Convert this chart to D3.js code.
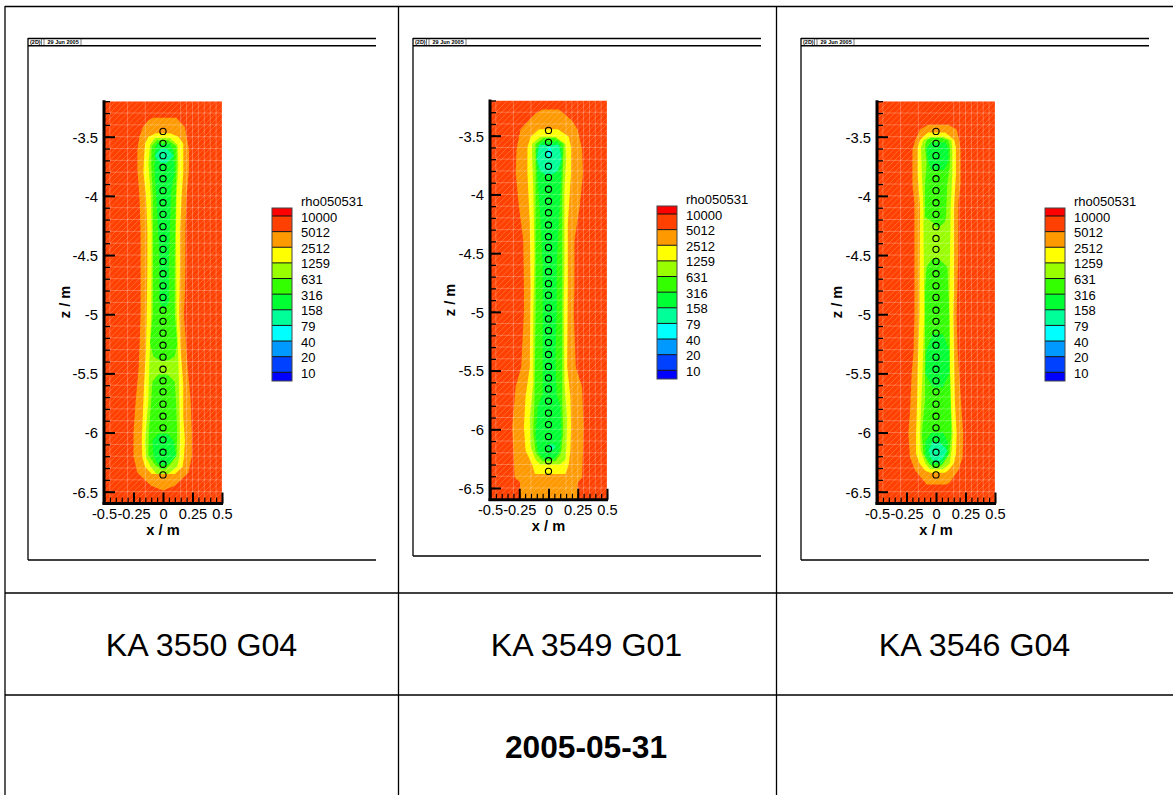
<!DOCTYPE html>
<html><head><meta charset="utf-8">
<script src="https://cdn.jsdelivr.net/npm/d3@7"></script>
<style>html,body{margin:0;padding:0;background:#fff}svg{display:block}text{font-family:"Liberation Sans",Arial,sans-serif;fill:#000}</style>
</head><body><div id="c"></div>
<script>
// ---- categories / labels
const panelNames = ["KA 3550 G04","KA 3549 G01","KA 3546 G04"];
const dateLabel = "2005-05-31";
const legendTitle = "rho050531";
const legendLabels = ["10000","5012","2512","1259","631","316","158","79","40","20","10"];
const legendColors = ["#ff0000","#ff4000","#ff9900","#ffff00","#99ff00","#33ff00","#00ff33","#00ff99","#00ffff","#0099ff","#0040ff","#0000ff"];
const zTicks = [-3.5,-4,-4.5,-5,-5.5,-6,-6.5];
const zTickLabels = ["-3.5","-4","-4.5","-5","-5.5","-6","-6.5"];
const xTicks = [-0.5,-0.25,0,0.25,0.5];
const xTickLabels = ["-0.5","-0.25","0","0.25","0.5"];
// measured sensor depths, z / m
const sensorZ = [-3.455,-3.556,-3.66,-3.76,-3.855,-3.956,-4.058,-4.156,-4.26,-4.36,-4.452,-4.554,-4.658,-4.76,-4.858,-4.966,-5.06,-5.16,-5.262,-5.363,-5.465,-5.563,-5.656,-5.76,-5.862,-5.96,-6.062,-6.166,-6.268,-6.358];

// ---- contour outlines: rows of [z, xLeft, xRight]
// KA 3550 G04
const a5012 = [[-3.34,-0.08,0.115],[-3.36,-0.124,0.13],[-3.42,-0.17,0.186],[-3.5,-0.2,0.2],[-3.61,-0.217,0.22],[-3.78,-0.217,0.22],[-4,-0.2,0.2],[-4.3,-0.19,0.19],[-4.6,-0.19,0.19],[-4.85,-0.19,0.185],[-5,-0.19,0.177],[-5.17,-0.195,0.19],[-5.45,-0.206,0.208],[-5.73,-0.231,0.234],[-6,-0.25,0.245],[-6.2,-0.25,0.245],[-6.34,-0.217,0.214],[-6.45,-0.1,0.1],[-6.49,0,0]];
const a2512 = [[-3.47,-0.06,0.06],[-3.5,-0.124,0.13],[-3.56,-0.152,0.172],[-3.67,-0.16,0.172],[-3.8,-0.166,0.172],[-4,-0.144,0.158],[-4.3,-0.132,0.144],[-4.6,-0.132,0.144],[-5,-0.138,0.138],[-5.3,-0.144,0.149],[-5.59,-0.16,0.172],[-5.87,-0.172,0.172],[-6.07,-0.18,0.186],[-6.21,-0.175,0.177],[-6.29,-0.152,0.166],[-6.35,-0.096,0.1]];
const a1259 = [[-3.51,-0.07,0.06],[-3.57,-0.11,0.124],[-3.73,-0.124,0.13],[-4,-0.104,0.115],[-4.3,-0.096,0.11],[-5,-0.1,0.115],[-5.39,-0.115,0.13],[-5.73,-0.124,0.138],[-6.07,-0.152,0.144],[-6.21,-0.144,0.138],[-6.29,-0.104,0.12],[-6.35,-0.054,0.045]];
const a631a = [[-3.53,-0.05,0.045],[-3.58,-0.096,0.115],[-3.73,-0.1,0.115],[-4,-0.087,0.11],[-4.5,-0.085,0.1],[-5,-0.087,0.1],[-5.25,-0.11,0.12],[-5.36,-0.08,0.1],[-5.39,-0.03,0.05]];
const a631b = [[-5.51,-0.04,0.04],[-5.57,-0.09,0.1],[-5.73,-0.1,0.11],[-6,-0.12,0.12],[-6.19,-0.124,0.115],[-6.27,-0.07,0.06],[-6.31,-0.02,0.02]];
const a316a = [[-3.56,-0.05,0.06],[-3.62,-0.07,0.09],[-3.8,-0.07,0.1],[-3.95,-0.06,0.07],[-4.5,-0.03,0.05],[-4.9,-0.03,0.05],[-4.95,0,0.02]];
const a316b = [[-6.01,-0.04,0.04],[-6.07,-0.09,0.09],[-6.2,-0.08,0.11],[-6.26,-0.05,0.06],[-6.28,0,0.01]];
const a158 = [[-3.6,-0.02,0.03],[-3.66,-0.07,0.09],[-3.72,-0.02,0.03]];
// KA 3549 G01
const b5012 = [[-3.276,-0.054,0.088],[-3.31,-0.11,0.13],[-3.37,-0.168,0.2],[-3.45,-0.24,0.25],[-3.62,-0.273,0.287],[-3.82,-0.28,0.295],[-4.1,-0.253,0.267],[-4.39,-0.216,0.222],[-4.81,-0.21,0.222],[-5,-0.21,0.216],[-5.47,-0.233,0.233],[-5.64,-0.281,0.287],[-5.98,-0.31,0.3],[-6.18,-0.3,0.295],[-6.41,-0.29,0.287],[-6.45,-0.244,0.25],[-6.6,-0.24,0.25]];
const b2512 = [[-3.446,-0.08,0.08],[-3.51,-0.153,0.173],[-3.6,-0.18,0.193],[-3.82,-0.18,0.193],[-4.25,-0.16,0.165],[-4.8,-0.153,0.165],[-5.47,-0.16,0.16],[-5.72,-0.196,0.187],[-5.98,-0.21,0.193],[-6.18,-0.196,0.187],[-6.3,-0.14,0.173],[-6.38,-0.115,0.145]];
const b1259 = [[-3.51,-0.07,0.06],[-3.57,-0.14,0.145],[-3.68,-0.14,0.153],[-3.96,-0.13,0.136],[-4.53,-0.12,0.136],[-5,-0.13,0.13],[-5.61,-0.13,0.136],[-5.9,-0.16,0.16],[-6.15,-0.153,0.153],[-6.26,-0.11,0.145],[-6.3,-0.07,0.1]];
const b631 = [[-3.52,-0.04,0.06],[-3.57,-0.11,0.13],[-3.96,-0.11,0.117],[-5,-0.11,0.117],[-5.75,-0.12,0.117],[-6.03,-0.13,0.125],[-6.2,-0.11,0.108],[-6.27,-0.054,0.06]];
const b316 = [[-3.55,-0.06,0.08],[-3.62,-0.11,0.12],[-3.9,-0.09,0.105],[-4.2,-0.07,0.09],[-4.6,-0.05,0.07],[-5,-0.05,0.07],[-5.4,-0.05,0.06],[-5.7,-0.05,0.07],[-5.8,-0.09,0.1],[-6.05,-0.11,0.11],[-6.2,-0.09,0.09],[-6.25,-0.04,0.05]];
const b158a = [[-3.58,-0.08,0.09],[-3.7,-0.1,0.11],[-3.8,-0.07,0.08],[-3.83,-0.03,0.03]];
const b158b = [[-6.13,0,0.05],[-6.16,0.01,0.06],[-6.18,0.02,0.03]];
const b79 = [[-3.6,0,0.02],[-3.65,-0.01,0.03],[-3.68,0,0.01]];
// KA 3546 G04
const c5012 = [[-3.4,-0.065,0.104],[-3.44,-0.135,0.175],[-3.53,-0.177,0.197],[-3.61,-0.2,0.208],[-3.9,-0.2,0.208],[-4.06,-0.183,0.189],[-4.5,-0.183,0.189],[-5,-0.183,0.175],[-5.31,-0.19,0.183],[-5.5,-0.206,0.197],[-5.82,-0.22,0.217],[-6.01,-0.234,0.231],[-6.21,-0.22,0.225],[-6.32,-0.177,0.189],[-6.42,-0.093,0.118],[-6.44,-0.08,0.09]];
const c2512 = [[-3.465,-0.065,0.076],[-3.485,-0.093,0.104],[-3.53,-0.135,0.155],[-3.59,-0.155,0.169],[-3.82,-0.155,0.169],[-4.1,-0.135,0.152],[-4.8,-0.14,0.152],[-5,-0.14,0.146],[-5.45,-0.155,0.155],[-5.73,-0.16,0.16],[-6.01,-0.169,0.175],[-6.18,-0.169,0.169],[-6.26,-0.14,0.152],[-6.32,-0.093,0.104],[-6.34,-0.05,0.076]];
const c1259 = [[-3.5,-0.05,0.06],[-3.53,-0.107,0.13],[-3.59,-0.127,0.138],[-3.82,-0.12,0.138],[-4.1,-0.107,0.124],[-5,-0.1,0.113],[-5.45,-0.113,0.118],[-5.73,-0.124,0.124],[-6.01,-0.135,0.141],[-6.15,-0.13,0.132],[-6.26,-0.093,0.118],[-6.31,-0.05,0.06]];
const c631a = [[-3.51,-0.04,0.05],[-3.53,-0.08,0.104],[-3.59,-0.093,0.118],[-3.73,-0.08,0.118],[-3.9,-0.093,0.096],[-4.18,-0.093,0.085],[-4.22,-0.03,0.075],[-4.26,0,0.03]];
const c631b = [[-4.53,-0.03,0.02],[-4.6,-0.08,0.096],[-4.8,-0.093,0.105],[-5,-0.093,0.113],[-5.45,-0.093,0.118],[-5.73,-0.093,0.124],[-6.01,-0.12,0.13],[-6.18,-0.107,0.113],[-6.26,-0.065,0.06],[-6.3,-0.02,0.02]];
const c316a = [[-3.55,-0.04,0.08],[-3.6,-0.08,0.105],[-3.7,-0.07,0.105],[-3.78,-0.04,0.07]];
const c316b = [[-5.17,-0.03,0.06],[-5.3,-0.08,0.11],[-5.5,-0.09,0.11],[-5.62,-0.03,0.06]];
const c316c = [[-6,-0.04,0.06],[-6.08,-0.09,0.1],[-6.2,-0.09,0.1],[-6.27,-0.04,0.05]];
const c158 = [[-6.08,-0.03,0.03],[-6.15,-0.065,0.095],[-6.22,-0.04,0.06],[-6.25,-0.01,0.02]];

// [legend colour index, outline]
const panelAContours = [[2,a5012],[3,a2512],[4,a1259],[5,a631a],[5,a631b],[6,a316a],[6,a316b],[7,a158]];
const panelBContours = [[2,b5012],[3,b2512],[4,b1259],[5,b631],[6,b316],[7,b158a],[7,b158b],[8,b79]];
const panelCContours = [[2,c5012],[3,c2512],[4,c1259],[5,c631a],[5,c631b],[6,c316a],[6,c316b],[6,c316c],[7,c158]];

// ---- layout
const W=1173,H=795;
const layouts=[
 {contours:panelAContours,fl:28,fb:560,fr:376,x0:104,x1:222,yA:136.7,yB:491.7,xTickY:514,xLabY:530,zLabX:65,zLabY:302,legX:272,legT:208,legB:381,leg0:216,leg10:372.3,cx:201.5},
 {contours:panelBContours,fl:413,fb:556,fr:761,x0:490,x1:607,yA:135.7,yB:488,xTickY:510,xLabY:526,zLabX:450,zLabY:300,legX:657,legT:206,legB:379,leg0:214,leg10:370.3,cx:586.5},
 {contours:panelCContours,fl:801,fb:560,fr:1149,x0:877,x1:995,yA:136.7,yB:491.7,xTickY:514,xLabY:530,zLabX:837,zLabY:302,legX:1045,legT:208,legB:381,leg0:216,leg10:372.3,cx:974.5}
];
const svg=d3.select("#c").append("svg").attr("width",W).attr("height",H).attr("viewBox",[0,0,W,H]);

// table rules
const rule=(x1,y1,x2,y2,sw=1.3)=>svg.append("line").attr("x1",x1).attr("y1",y1).attr("x2",x2).attr("y2",y2).attr("stroke","#000").attr("stroke-width",sw);
rule(5,6.5,W,6.5);rule(5,6,5,H);rule(398.5,6,398.5,H);rule(776.5,6,776.5,H);rule(5,593,W,593);rule(5,695,W,695);

svg.append("defs");
layouts.forEach((p,pi)=>{
  const g=svg.append("g");
  // frame
  [[p.fl,38.5,p.fr,38.5,1.6],[p.fl,45.7,p.fr,45.7,1.6],[p.fl,38,p.fl,p.fb,1.3],[p.fl,p.fb,p.fr,p.fb,1.3]].forEach(l=>rule(...l));
  g.append("text").attr("x",p.fl+2).attr("y",44).attr("font-size",5.5).attr("font-weight","bold").attr("fill","#222").text("(2D)");
  g.append("text").attr("x",p.fl+19.5).attr("y",44).attr("font-size",5.5).attr("font-weight","bold").attr("fill","#222").text("29 Jun 2005");
  [p.fl+13.5,p.fl+16,p.fl+53].forEach(x=>g.append("line").attr("x1",x).attr("x2",x).attr("y1",39).attr("y2",45).attr("stroke","#444").attr("stroke-width",.7));

  const x=d3.scaleLinear().domain([-0.5,0.5]).range([p.x0,p.x1]);
  const z=d3.scaleLinear().domain([-3.5,-6.5]).range([p.yA,p.yB]);
  const zTop=-3.2,zBot=-6.6;
  const id="clip"+pi;
  svg.select("defs").append("clipPath").attr("id",id).append("rect").attr("x",x(-0.5)).attr("y",z(zTop)).attr("width",x(0.5)-x(-0.5)).attr("height",z(zBot)-z(zTop));
  const plot=g.append("g").attr("clip-path",`url(#${id})`);
  plot.append("rect").attr("x",x(-0.5)).attr("y",z(zTop)).attr("width",x(0.5)-x(-0.5)).attr("height",z(zBot)-z(zTop)).attr("fill",legendColors[1]);
  const area=d3.area().y(d=>z(d[0])).x0(d=>x(d[1])).x1(d=>x(d[2]));
  plot.selectAll("path.c").data(p.contours).join("path").attr("class","c").attr("fill",d=>legendColors[d[0]]).attr("d",d=>area(d[1]));

  // mesh
  const mesh=plot.append("g").attr("stroke","#fff").attr("stroke-opacity",.25).attr("stroke-width",1).attr("fill","none");
  d3.range(-3.2,-6.61,-0.1).forEach(v=>mesh.append("line").attr("x1",x(-0.5)).attr("x2",x(0.5)).attr("y1",z(v)).attr("y2",z(v)));
  [-0.45,-0.3,-0.15,0.15,0.2,0.25,0.3,0.35,0.4,0.45,0.5].forEach(v=>mesh.append("line").attr("x1",x(v)).attr("x2",x(v)).attr("y1",z(zTop)).attr("y2",z(zBot)));
  d3.range(-3.2,-7.7,-0.05).forEach(v=>mesh.append("line").attr("x1",x(-0.5)).attr("y1",z(v)).attr("x2",x(0.5)).attr("y2",z(v+1)).attr("stroke-opacity",.2));

  // sensors
  plot.selectAll("circle").data(sensorZ).join("circle").attr("cx",x(0)).attr("cy",d=>z(d)).attr("r",3.1).attr("fill","none").attr("stroke","#000").attr("stroke-width",1.1);

  // axes
  const zMinor=d3.range(-3.2,-6.61,-0.1).map(v=>+v.toFixed(1));
  const xMinor=d3.range(-0.5,0.501,0.05).map(v=>+v.toFixed(2));
  const zAxisG=g.append("g").attr("transform",`translate(${p.x0},0)`);
  zAxisG.call(d3.axisLeft(z).tickValues(zMinor).tickSize(-6).tickSizeOuter(0).tickFormat(""));
  zAxisG.call(s=>{s.selectAll("line").attr("stroke-width",1.3);s.select(".domain").attr("stroke-width",3).attr("d",`M0,${z(zTop)-1}V${z(zBot)+1}`)});
  const zMaj=g.append("g").attr("transform",`translate(${p.x0},0)`).call(d3.axisLeft(z).tickValues(zTicks).tickSize(-11).tickPadding(6).tickFormat((d,i)=>zTickLabels[i]));
  zMaj.select(".domain").remove();zMaj.selectAll("line").attr("stroke-width",2);
  zMaj.selectAll("text").attr("font-size",14.8).attr("dy","0.36em");
  zMaj.attr("font-family",null);

  const xAxisG=g.append("g").attr("transform",`translate(0,${z(zBot)})`);
  xAxisG.call(d3.axisBottom(x).tickValues(xMinor).tickSize(-6).tickSizeOuter(0).tickFormat(""));
  xAxisG.call(s=>{s.selectAll("line").attr("stroke-width",1.2);s.select(".domain").attr("stroke-width",3).attr("d",`M${x(-0.5)-1.5},0H${x(0.5)+1}`)});
  const xMaj=g.append("g").attr("transform",`translate(0,${z(zBot)})`).call(d3.axisBottom(x).tickValues(xTicks).tickSize(-11).tickPadding(0).tickFormat((d,i)=>xTickLabels[i]));
  xMaj.select(".domain").remove();xMaj.selectAll("line").attr("stroke-width",2);
  xMaj.attr("font-family",null);
  xMaj.selectAll("text").attr("font-size",14.6).attr("dy",null).attr("y",p.xTickY-z(zBot)).attr("dominant-baseline","central");

  g.append("text").attr("x",x(0)).attr("y",p.xLabY).attr("text-anchor","middle").attr("dominant-baseline","central").attr("font-size",14.6).attr("font-weight","bold").text("x / m");
  g.append("text").attr("transform",`translate(${p.zLabX},${p.zLabY}) rotate(-90)`).attr("text-anchor","middle").attr("dominant-baseline","central").attr("font-size",14.6).attr("font-weight","bold").text("z / m");

  // legend
  const ly=d3.scaleLinear().domain([0,10]).range([p.leg0,p.leg10]);
  const edges=[p.legT,...legendLabels.map((_,i)=>ly(i)),p.legB];
  const lg=g.append("g");
  lg.selectAll("rect").data(legendColors).join("rect").attr("x",p.legX).attr("width",20).attr("y",(d,i)=>edges[i]).attr("height",(d,i)=>edges[i+1]-edges[i]).attr("fill",d=>d);
  lg.selectAll("line").data(legendLabels).join("line").attr("x1",p.legX).attr("x2",p.legX+20).attr("y1",(d,i)=>ly(i)).attr("y2",(d,i)=>ly(i)).attr("stroke","#111").attr("stroke-width",1);
  lg.append("rect").attr("x",p.legX).attr("y",p.legT).attr("width",20).attr("height",p.legB-p.legT).attr("fill","none").attr("stroke","#444").attr("stroke-width",1);
  lg.selectAll("text.l").data(legendLabels).join("text").attr("class","l").attr("x",p.legX+29).attr("y",(d,i)=>ly(i)+1).attr("dominant-baseline","central").attr("font-size",13).text(d=>d);
  lg.append("text").attr("x",p.legX+29).attr("y",p.legT-7).attr("dominant-baseline","central").attr("font-size",13).text(legendTitle);

  // table label
  g.append("text").attr("x",p.cx).attr("y",645).attr("text-anchor","middle").attr("dominant-baseline","central").attr("font-size",32.2).text(panelNames[pi]);
});
svg.append("text").attr("x",586).attr("y",747).attr("text-anchor","middle").attr("dominant-baseline","central").attr("font-size",31.7).attr("font-weight","bold").text(dateLabel);
</script></body></html>
